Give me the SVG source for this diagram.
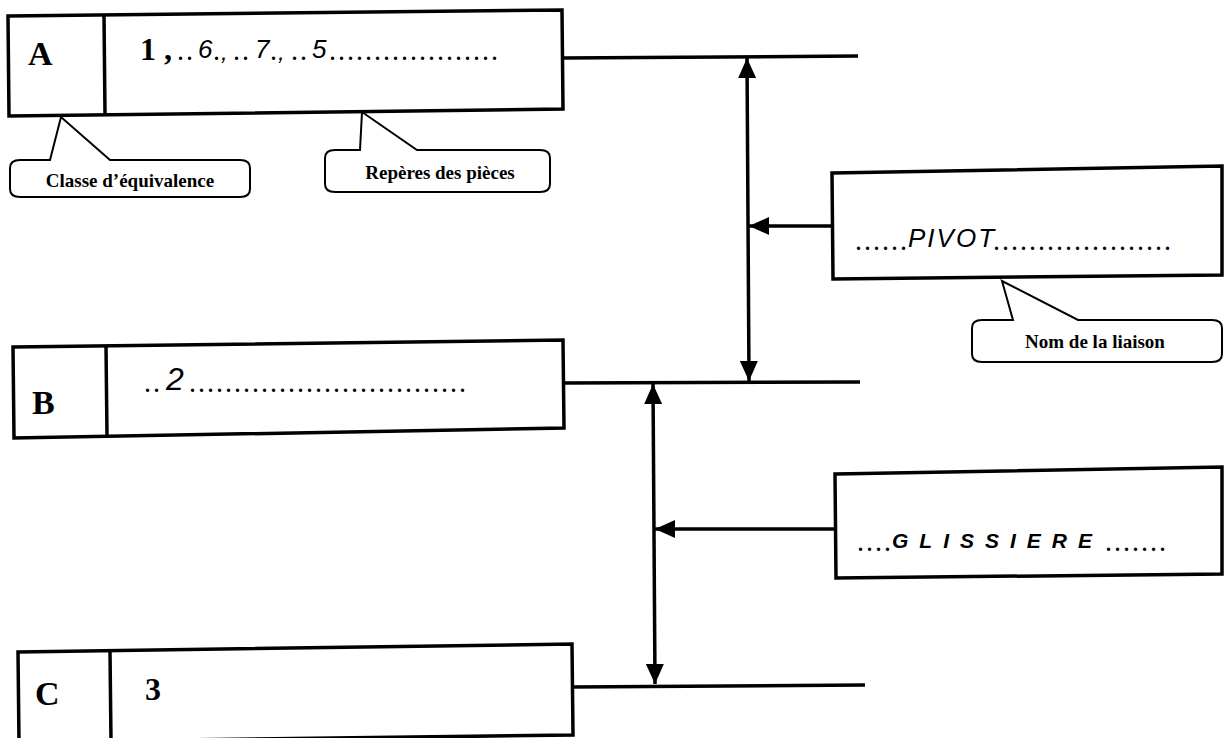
<svg xmlns="http://www.w3.org/2000/svg" width="1224" height="738" viewBox="0 0 1224 738">
<defs>
<style>
.box{fill:none;stroke:#000;stroke-width:3.5;stroke-linejoin:miter}
.ln{fill:none;stroke:#000;stroke-width:3.5}
.cl{fill:#fff;stroke:#000;stroke-width:2}
.lab{font-family:"Liberation Serif",serif;font-weight:bold;font-size:34px;fill:#000}
.num{font-family:"Liberation Serif",serif;font-weight:bold;font-size:32px;fill:#000}
.hand{font-family:"Liberation Sans",sans-serif;font-style:italic;fill:#000}
.dots{font-family:"Liberation Serif",serif;font-weight:bold;font-size:20px;letter-spacing:4px;fill:#000}
.call{font-family:"Liberation Serif",serif;font-weight:bold;font-size:19px;fill:#000}
</style>
<marker id="ah" viewBox="0 0 20 18" markerWidth="20" markerHeight="18" refX="20" refY="9" orient="auto-start-reverse" markerUnits="userSpaceOnUse"><path d="M0,0 L20,9 L0,18 Z" fill="#000"/></marker>
</defs>
<rect width="1224" height="738" fill="#fff"/>

<g id="connectors">
<line class="ln" x1="562" y1="58" x2="858" y2="56"/>
<line class="ln" x1="563" y1="383" x2="860" y2="382"/>
<line class="ln" x1="572" y1="687" x2="865" y2="685"/>
<line class="ln" x1="747" y1="58" x2="749" y2="381" marker-start="url(#ah)" marker-end="url(#ah)"/>
<line class="ln" x1="832" y1="226" x2="749" y2="226" marker-end="url(#ah)"/>
<line class="ln" x1="653" y1="384" x2="655" y2="684" marker-start="url(#ah)" marker-end="url(#ah)"/>
<line class="ln" x1="835" y1="529" x2="655" y2="529" marker-end="url(#ah)"/>
</g>

<g id="nodeA">
<polygon class="box" points="8,16 562,10 563,109 9,116"/>
<line class="box" x1="104" y1="15" x2="105" y2="115"/>
<text class="lab" x="28" y="65">A</text>
<text class="num" x="140" y="60">1 ,</text>
<text class="dots" x="178" y="60">..</text>
<text class="hand" x="198" y="58" font-size="26">6</text>
<text class="dots" x="214" y="60">.</text>
<text class="hand" x="221" y="60" font-size="24">,</text>
<text class="dots" x="234" y="60">..</text>
<text class="hand" x="255" y="58" font-size="26">7</text>
<text class="dots" x="271" y="60">.</text>
<text class="hand" x="278" y="60" font-size="24">,</text>
<text class="dots" x="292" y="60">..</text>
<text class="hand" x="312" y="58" font-size="26">5</text>
<text class="dots" x="330" y="60">...................</text>
</g>

<g id="callout-classe">
<path class="cl" d="M20,160 L50,160 L61,117 L110,160 L240,160 Q250,160 250,168 L250,189 Q250,197 240,197 L20,197 Q10,197 10,189 L10,168 Q10,160 20,160 Z"/>
<text class="call" x="130" y="187" text-anchor="middle">Classe d’équivalence</text>
</g>

<g id="callout-reperes">
<path class="cl" d="M335,150 L360,150 L362,112 L417,150 L540,150 Q550,150 550,158 L550,184 Q550,192 540,192 L335,192 Q325,192 325,184 L325,158 Q325,150 335,150 Z"/>
<text class="call" x="440" y="179" text-anchor="middle">Repères des pièces</text>
</g>

<g id="nodeB">
<polygon class="box" points="13,347 563,340 564,428 14,438"/>
<line class="box" x1="106" y1="346" x2="107" y2="436"/>
<text class="lab" x="32" y="414">B</text>
<text class="dots" x="145" y="392">..</text>
<text class="hand" x="166" y="390" font-size="32">2</text>
<text class="dots" x="190" y="392">...............................</text>
</g>

<g id="nodeC">
<polygon class="box" points="18,652 572,644 573,735 19,742"/>
<line class="box" x1="110" y1="651" x2="111" y2="742"/>
<text class="lab" x="35" y="705">C</text>
<text class="num" x="145" y="700">3</text>
</g>

<g id="nodePivot">
<polygon class="box" points="832,173 1222,166 1222,275 833,279"/>
<text class="dots" x="856" y="250">......</text>
<text class="hand" x="908" y="247" font-size="26" letter-spacing="2">PIVOT</text>
<text class="dots" x="994" y="250">....................</text>
</g>

<g id="callout-nom">
<path class="cl" d="M982,320 L1013,320 L1002,281 L1078,320 L1212,320 Q1222,320 1222,328 L1222,354 Q1222,362 1212,362 L982,362 Q972,362 972,354 L972,328 Q972,320 982,320 Z"/>
<text class="call" x="1095" y="348" text-anchor="middle">Nom de la liaison</text>
</g>

<g id="nodeGlissiere">
<polygon class="box" points="835,474 1222,467 1222,574 836,578"/>
<text class="dots" x="858" y="551">....</text>
<text class="hand" x="892" y="548" font-size="21" font-weight="bold" letter-spacing="11">GLISSIERE</text>
<text class="dots" x="1106" y="551">.......</text>
</g>
</svg>
